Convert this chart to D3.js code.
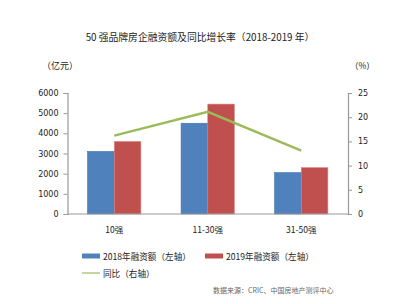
<!DOCTYPE html>
<html>
<head>
<meta charset="utf-8">
<script src="https://cdn.jsdelivr.net/npm/d3@7"></script>
<style>
  body { margin: 0; background: #fff; }
  text { font-family: "Noto Sans CJK SC", "Noto Sans", sans-serif; }
</style>
</head>
<body>
<div id="chart"></div>
<script>
const categories = ["10强", "11-30强", "31-50强"];
const finance2018 = [3100, 4500, 2050];
const finance2019 = [3600, 5450, 2300];
const yoyGrowth = [16.2, 21.1, 13.1];
const leftTicks = [0, 1000, 2000, 3000, 4000, 5000, 6000];
const rightTicks = [0, 5, 10, 15, 20, 25];

const colors = { y2018: "#4f81bd", y2019: "#c0504d", yoy: "#9bbb59" };

var width = 405, height = 304;
var margin = { top: 93, left: 67.5, right: 57, bottom: 90 };

var svg = d3.select("#chart").append("svg")
    .attr("width", width)
    .attr("height", height);

var x = d3.scaleBand()
    .domain(categories)
    .range([margin.left, width - margin.right]);

var yLeft = d3.scaleLinear()
    .domain([0, 6000])
    .range([height - margin.bottom, margin.top]);

var yRight = d3.scaleLinear()
    .domain([0, 25])
    .range([height - margin.bottom, margin.top]);

var barW = x.bandwidth() * 0.285;

// title
svg.append("text")
    .attr("x", 200).attr("y", 41)
    .attr("text-anchor", "middle")
    .style("font-size", "9.8px")
    .style("fill", "#222")
    .text("50 强品牌房企融资额及同比增长率（2018-2019 年）");

svg.append("text")
    .attr("x", 42).attr("y", 69)
    .style("font-size", "9px")
    .style("fill", "#222")
    .text("（亿元）");

svg.append("text")
    .attr("x", 350).attr("y", 69)
    .style("font-size", "8.5px")
    .style("fill", "#222")
    .text("（%）");

// axes
var leftAxis = svg.append("g")
    .attr("transform", "translate(" + margin.left + ",0)")
    .call(d3.axisLeft(yLeft).tickValues(leftTicks).tickFormat(d3.format("d")).tickSize(4).tickPadding(5));

var rightAxis = svg.append("g")
    .attr("transform", "translate(" + (width - margin.right) + ",0)")
    .call(d3.axisRight(yRight).tickValues(rightTicks).tickSize(4).tickPadding(6));

[leftAxis, rightAxis].forEach(function (g) {
    g.select(".domain").attr("stroke", "#999").attr("stroke-width", 1.2);
    g.selectAll(".tick line").attr("stroke", "#999");
    g.selectAll(".tick text")
        .style("font-size", "8px")
        .style("font-family", "'DejaVu Sans', sans-serif")
        .style("fill", "#222");
});

// bars
svg.append("g").selectAll("rect")
    .data(finance2018)
    .enter().append("rect")
    .attr("x", (d, i) => x(categories[i]) + x.bandwidth() / 2 - barW)
    .attr("y", d => yLeft(d))
    .attr("width", barW)
    .attr("height", d => yLeft(0) - yLeft(d))
    .attr("fill", colors.y2018)
    .attr("stroke", "#3f6fa8")
    .attr("stroke-width", 0.6);

svg.append("g").selectAll("rect")
    .data(finance2019)
    .enter().append("rect")
    .attr("x", (d, i) => x(categories[i]) + x.bandwidth() / 2)
    .attr("y", d => yLeft(d))
    .attr("width", barW)
    .attr("height", d => yLeft(0) - yLeft(d))
    .attr("fill", colors.y2019)
    .attr("stroke", "#d98a88")
    .attr("stroke-width", 0.6);

// baseline
svg.append("line")
    .attr("x1", margin.left).attr("x2", width - margin.right)
    .attr("y1", yLeft(0)).attr("y2", yLeft(0))
    .attr("stroke", "#999").attr("stroke-width", 1.2);

// growth line
var line = d3.line()
    .x((d, i) => x(categories[i]) + x.bandwidth() / 2)
    .y(d => yRight(d));

svg.append("path")
    .datum(yoyGrowth)
    .attr("d", line)
    .attr("fill", "none")
    .attr("stroke", colors.yoy)
    .attr("stroke-width", 2.4);

// category labels
svg.append("g").selectAll("text")
    .data(categories)
    .enter().append("text")
    .attr("x", d => x(d) + x.bandwidth() / 2)
    .attr("y", 233)
    .attr("text-anchor", "middle")
    .style("font-size", "8.5px")
    .style("fill", "#222")
    .text(d => d);

// legend
var legend = svg.append("g");
legend.append("rect").attr("x", 82).attr("y", 253.5).attr("width", 18).attr("height", 5).attr("fill", colors.y2018);
legend.append("text").attr("x", 103).attr("y", 259.5).style("font-size", "8.6px").style("fill", "#222").text("2018年融资额（左轴）");
legend.append("rect").attr("x", 205).attr("y", 253.5).attr("width", 18).attr("height", 5).attr("fill", colors.y2019);
legend.append("text").attr("x", 226).attr("y", 259.5).style("font-size", "8.6px").style("fill", "#222").text("2019年融资额（左轴）");
legend.append("line").attr("x1", 82).attr("x2", 100).attr("y1", 273).attr("y2", 273)
    .attr("stroke", colors.yoy).attr("stroke-width", 1.2);
legend.append("text").attr("x", 103).attr("y", 276.5).style("font-size", "8.6px").style("fill", "#222").text("同比（右轴）");

// source
svg.append("text")
    .attr("x", 213).attr("y", 293)
    .style("font-size", "7px")
    .style("fill", "#666")
    .text("数据来源：CRIC、中国房地产测评中心");
</script>
</body>
</html>
